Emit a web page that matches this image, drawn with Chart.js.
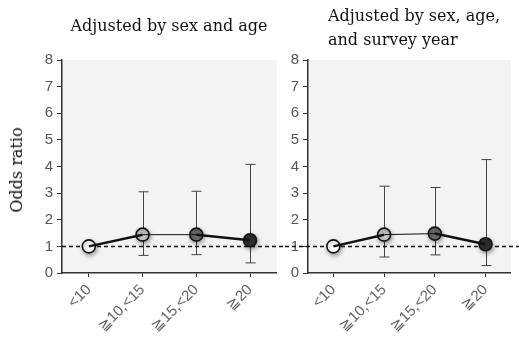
<!DOCTYPE html>
<html>
<head>
<meta charset="utf-8">
<script src="https://cdn.jsdelivr.net/npm/chart.js@4.4.0/dist/chart.umd.min.js"></script>
<style>
  body { margin: 0; background: #fff; width: 519px; height: 340px; overflow: hidden; position: relative; }
  .panel { position: absolute; top: 0; height: 340px; }
  .txt { position: absolute; font-family: "DejaVu Serif", serif; font-size: 16px; color: #111; white-space: nowrap; line-height: 24px; }
</style>
</head>
<body>
<div class="panel" style="left:0;width:285px"><canvas id="leftChart" width="285" height="340"></canvas></div>
<div class="panel" style="left:285px;width:234px"><canvas id="rightChart" width="234" height="340"></canvas></div>
<div class="txt" style="left:169px;top:14px;transform:translateX(-50%)">Adjusted by sex and age</div>
<div class="txt" style="left:328px;top:4px">Adjusted by sex, age,<br>and survey year</div>
<div class="txt" style="left:17px;top:170px;transform:translate(-50%,-50%) rotate(-90deg)">Odds ratio</div>
<script>
// Data
const categories = ['<10', '≧10,<15', '≧15,<20', '≧20'];

const orSexAge = [1.0, 1.44, 1.44, 1.23];
const lowerSexAge = [null, 0.66, 0.69, 0.38];
const upperSexAge = [null, 3.05, 3.07, 4.08];

const orSexAgeYear = [1.0, 1.44, 1.48, 1.08];
const lowerSexAgeYear = [null, 0.60, 0.68, 0.28];
const upperSexAgeYear = [null, 3.26, 3.21, 4.26];

const yMin = 0;
const yMax = 8;
const referenceLine = 1;

const pointColors = ['#ffffff', '#c6c6c6', '#6c6c6c', '#2f2f2f'];

// Plot background, reference line and error bars
const decorPlugin = {
    id: 'decor',
    beforeDraw(chart) {
        const { ctx, chartArea } = chart;
        ctx.save();
        ctx.fillStyle = '#f3f3f3';
        ctx.fillRect(chartArea.left, chartArea.top, chartArea.right - chartArea.left, chartArea.bottom - chartArea.top);
        ctx.restore();
    },
    beforeDatasetsDraw(chart) {
        const { ctx, chartArea, scales } = chart;
        const opts = chart.options.plugins.decor;
        ctx.save();
        // error bars
        ctx.strokeStyle = '#444';
        ctx.lineWidth = 1;
        opts.lower.forEach((lo, i) => {
            const hi = opts.upper[i];
            if (lo == null || hi == null) return;
            const x = Math.round(scales.x.getPixelForValue(i)) + 0.5;
            const y1 = scales.y.getPixelForValue(lo);
            const y2 = scales.y.getPixelForValue(hi);
            ctx.beginPath();
            ctx.moveTo(x, y1);
            ctx.lineTo(x, y2);
            ctx.moveTo(x - 5, y1);
            ctx.lineTo(x + 5, y1);
            ctx.moveTo(x - 5, y2);
            ctx.lineTo(x + 5, y2);
            ctx.stroke();
        });
        // dashed reference line
        const yr = scales.y.getPixelForValue(referenceLine);
        ctx.strokeStyle = '#111';
        ctx.lineWidth = 1.5;
        ctx.setLineDash([4, 3]);
        ctx.beginPath();
        ctx.moveTo(opts.lineFrom === 'edge' ? 0 : chartArea.left, yr);
        ctx.lineTo(chart.width, yr);
        ctx.stroke();
        ctx.restore();
    },
    beforeDatasetDraw(chart, args) {
        if (args.index !== 1) return;
        const ctx = chart.ctx;
        ctx.save();
        ctx.shadowColor = 'rgba(0,0,0,0.35)';
        ctx.shadowBlur = 4;
        ctx.shadowOffsetX = 1;
        ctx.shadowOffsetY = 2;
    },
    afterDatasetDraw(chart, args) {
        if (args.index !== 1) return;
        chart.ctx.restore();
    }
};

function makeChart(id, values, lower, upper, yWidth, padRight, lineFrom) {
    return new Chart(document.getElementById(id), {
        type: 'line',
        data: {
            labels: categories,
            datasets: [
                {
                    data: values,
                    borderColor: '#111',
                    borderWidth: 2.5,
                    pointRadius: 0,
                    segment: {
                        borderWidth: ctx => ctx.p0DataIndex === 1 ? 1 : 2.5
                    }
                },
                {
                    data: values,
                    showLine: false,
                    pointRadius: 6.5,
                    pointBackgroundColor: pointColors,
                    pointBorderColor: '#111',
                    pointBorderWidth: 1.6
                }
            ]
        },
        options: {
            responsive: false,
            animation: false,
            layout: { padding: { top: 60, right: padRight, left: 0, bottom: 0 } },
            plugins: {
                legend: { display: false },
                tooltip: { enabled: false },
                decor: { lower: lower, upper: upper, lineFrom: lineFrom }
            },
            scales: {
                x: {
                    offset: true,
                    afterFit: s => { s.height = 67; },
                    grid: { display: true, drawOnChartArea: false, drawTicks: true, tickLength: 4, color: '#333', offset: false },
                    border: { display: true, color: '#333', width: 1.5 },
                    ticks: {
                        minRotation: 45, maxRotation: 45, padding: 4,
                        color: '#666',
                        font: { family: 'Liberation Sans', size: 15 }
                    }
                },
                y: {
                    min: yMin,
                    max: yMax,
                    afterFit: s => { s.width = yWidth; },
                    grid: { display: true, drawOnChartArea: false, drawTicks: true, tickLength: 5, color: '#333' },
                    border: { display: true, color: '#333', width: 1.5 },
                    ticks: {
                        stepSize: 1, padding: 4,
                        color: '#555',
                        font: { family: 'Liberation Sans', size: 15 }
                    }
                }
            }
        },
        plugins: [decorPlugin]
    });
}

makeChart('leftChart', orSexAge, lowerSexAge, upperSexAge, 62, 5, 'area');
makeChart('rightChart', orSexAgeYear, lowerSexAgeYear, upperSexAgeYear, 23, 0, 'edge');
</script>
</body>
</html>
